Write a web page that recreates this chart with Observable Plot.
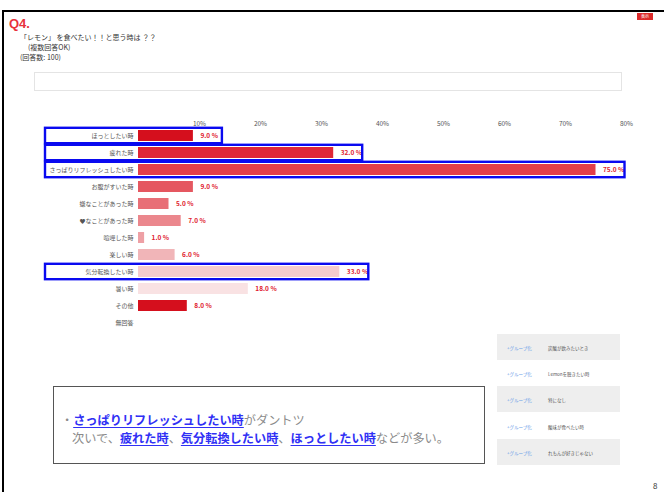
<!DOCTYPE html>
<html>
<head>
<meta charset="utf-8">
<script src="https://cdn.jsdelivr.net/npm/d3@7"></script>
<script src="https://cdn.jsdelivr.net/npm/@observablehq/plot@0.6"></script>
<style>
  html, body { margin: 0; padding: 0; background: #fff; }
  body { width: 664px; height: 492px; position: relative; overflow: hidden; font-family: "Noto Sans CJK JP", "Noto Sans", sans-serif; }
  .abs { position: absolute; }
  #frame { left: 2px; top: 10px; width: 700px; height: 500px; border-top: 2px solid #000; border-left: 2px solid #000; }
  #q { left: 9px; top: 16px; color: #e8323c; font: bold 13px "Liberation Sans", Arial, sans-serif; }
  .sub { font-size: 7px; color: #333; white-space: nowrap; line-height: 9px; }
  #inputbox { left: 34px; top: 72px; width: 586px; height: 17px; border: 1px solid #e4e4e4; }
  #badge { left: 637px; top: 13px; width: 16px; height: 7px; background: #dd2b2b; color: #fff; font-size: 4px; line-height: 7px; text-align: center; }
  #chart { left: 0; top: 112px; }
  #note { left: 53px; top: 386px; width: 432px; height: 78px; border: 1px solid #555; box-sizing: border-box; }
  #note .l { position: absolute; left: 7px; font-size: 12.2px; color: #8a8a8a; white-space: nowrap; line-height: 16px; }
  #note b { color: #3030f5; text-decoration: underline; text-underline-offset: 2px; font-weight: bold; }
  .row { position: absolute; left: 497px; width: 123px; height: 26px; font-size: 4.5px; }
  .row .g { position: absolute; left: 10px; top: 11px; color: #6a9ee8; }
  .row .t { position: absolute; left: 51px; top: 11px; color: #555; }
  #pg { left: 653px; top: 480px; font-size: 8px; color: #333; }
</style>
</head>
<body>
<div id="frame" class="abs"></div>
<div id="q" class="abs">Q4.</div>
<div class="abs sub" style="left:20px;top:33px;">「レモン」 を食べたい！！と思う時は ？？</div>
<div class="abs sub" style="left:28px;top:43px;">(複数回答OK)</div>
<div class="abs sub" style="left:20px;top:53px;">(回答数: 100)</div>
<div id="inputbox" class="abs"></div>
<div id="badge" class="abs">表示</div>
<div id="chart" class="abs"></div>
<div id="table"></div>
<div id="note" class="abs">
  <div class="l" style="top:25px;">・<b>さっぱりリフレッシュしたい時</b>がダントツ</div>
  <div class="l" style="top:43px;left:18px;">次いで、<b>疲れた時</b>、<b>気分転換したい時</b>、<b>ほっとしたい時</b>などが多い。</div>
</div>
<div id="pg" class="abs">8</div>
<script>
// ---- data ----
const categories = ["ほっとしたい時", "疲れた時", "さっぱりリフレッシュしたい時", "お腹がすいた時", "嫌なことがあった時", "♥なことがあった時", "喧嘩した時", "楽しい時", "気分転換したい時", "暑い時", "その他", "無回答"];
const values = [9, 32, 75, 9, 5, 7, 1, 6, 33, 18, 8, null];
const highlighted = ["ほっとしたい時", "疲れた時", "さっぱりリフレッシュしたい時", "気分転換したい時"];
const tickValues = [10, 20, 30, 40, 50, 60, 70, 80];
const groupLabels = ["炭酸が飲みたいとき", "Lemonを聴きたい時", "特になし", "酸味が食べたい時", "れもんが好きじゃない"];

// ---- styles ----
const palette = ["#d50f1d", "#df2637", "#e33f4a", "#e55760", "#e86f77", "#eb878d", "#eea0a5", "#f1b5b8", "#f5cbce", "#f9e2e3", "#d50f1d", "#ffffff"];

const rows = categories.map((c, i) => ({category: c, value: values[i]}));
const withValue = rows.filter(d => d.value != null);
const boxes = rows.filter(d => highlighted.includes(d.category));

const chart = Plot.plot({
  width: 664,
  height: 226,
  marginLeft: 138,
  marginRight: 38,
  marginTop: 13,
  marginBottom: 5,
  style: {fontFamily: "'Noto Sans CJK JP', sans-serif", background: "transparent"},
  x: {domain: [0, 80]},
  y: {domain: categories, padding: 0.36, paddingOuter: 0.18},
  color: {domain: categories, range: palette},
  marks: [
    Plot.ruleX([0, ...tickValues], {stroke: d => d === 60 ? "#cfcfcf" : "#e8e8e8", strokeWidth: 1.3, y1: null}),
    Plot.barX(withValue, {y: "category", x: "value", fill: "category"}),
    Plot.text(withValue, {y: "category", x: "value", text: d => d.value.toFixed(1) + " %", dx: 7, textAnchor: "start", fill: "#e0202e", fontWeight: "bold", fontSize: 6.5}),
    Plot.rectX(boxes, {y: "category", x1: 0, x2: "value", fill: "none", stroke: "#0a0af0", strokeWidth: 2.4, insetLeft: -93, insetRight: -29, insetTop: -2.2, insetBottom: -2.2}),
    Plot.axisX({anchor: "top", ticks: tickValues, tickSize: 0, tickPadding: 0, tickFormat: d => d + "%", fontSize: 6.5, color: "#555", label: null}),
    Plot.axisY({tickSize: 0, tickPadding: 5, fontSize: 6, color: "#555", label: null})
  ]
});
document.getElementById("chart").appendChild(chart);

// right-hand grouping table
const table = document.getElementById("table");
groupLabels.forEach((t, i) => {
  const r = document.createElement("div");
  r.className = "row";
  r.style.top = (334 + i * 26.2) + "px";
  r.style.background = i % 2 === 0 ? "#eeeeee" : "#ffffff";
  r.innerHTML = `<span class="g">+グループ化</span><span class="t">${t}</span>`;
  table.appendChild(r);
});
</script>
</body>
</html>
